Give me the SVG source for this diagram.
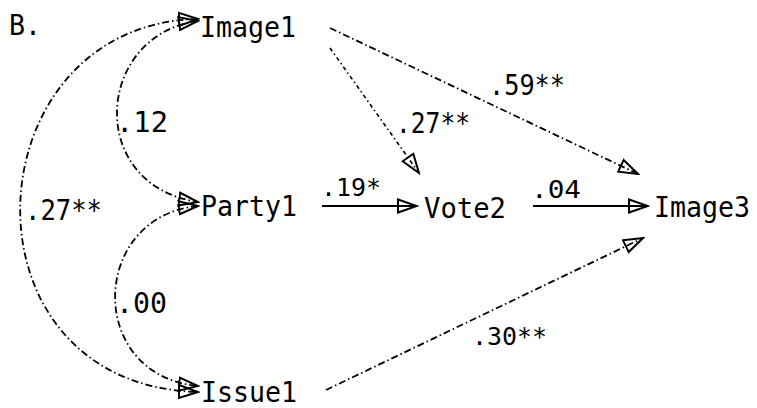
<svg xmlns="http://www.w3.org/2000/svg" width="757" height="408" viewBox="0 0 757 408">
<style>
text{font-family:"DejaVu Sans Mono","Liberation Mono",monospace;fill:#000}
.n{font-size:28px}
.l{font-size:29px}
.s{font-size:24px}
.c{fill:none;stroke:#000;stroke-width:1.8;stroke-dasharray:7 3 1.5 3}
.d{fill:none;stroke:#000;stroke-width:1.6;stroke-dasharray:4 3 1.5 3}
.sol{fill:none;stroke:#000;stroke-width:2}
</style>
<defs>
<marker id="ah" markerWidth="22" markerHeight="16" refX="20" refY="8" orient="auto-start-reverse" markerUnits="userSpaceOnUse">
<path d="M1,1.5 L20,8 L1,14.5 z" fill="none" stroke="#000" stroke-width="2"/>
</marker>
</defs>
<rect width="757" height="408" fill="#fff"/>
<text x="9" y="35" class="n" textLength="32" lengthAdjust="spacingAndGlyphs">B.</text>
<g id="connectors">
<g id="e-image1-party1"><path class="c" d="M198,21 C95,35 85,185 198,202" marker-start="url(#ah)" marker-end="url(#ah)"/><text x="116" y="132" class="l" textLength="52" lengthAdjust="spacingAndGlyphs">.12</text></g>
<g id="e-party1-issue1"><path class="c" d="M198,206 C90,216 85,375 198,386" marker-start="url(#ah)" marker-end="url(#ah)"/><text x="116" y="313" class="l" textLength="51" lengthAdjust="spacingAndGlyphs">.00</text></g>
<g id="e-image1-issue1"><path class="c" d="M198,19 C-30,24 -48,385 198,392" marker-start="url(#ah)" marker-end="url(#ah)"/><text x="25" y="220" class="l" textLength="77" lengthAdjust="spacingAndGlyphs">.27**</text></g>
<g id="e-image1-image3"><path class="c" d="M330,28 L638,174" marker-end="url(#ah)"/><text x="489" y="95" class="l" textLength="76" lengthAdjust="spacingAndGlyphs">.59**</text></g>
<g id="e-image1-vote2"><path class="d" d="M330,48 L419,173" marker-end="url(#ah)"/><text x="396" y="133" class="l" textLength="74" lengthAdjust="spacingAndGlyphs">.27**</text></g>
<g id="e-party1-vote2"><path class="sol" d="M322,206 L417,206" marker-end="url(#ah)"/><text x="321" y="196" class="s" textLength="60" lengthAdjust="spacingAndGlyphs">.19*</text></g>
<g id="e-vote2-image3"><path class="sol" d="M533,206 L648,206" marker-end="url(#ah)"/><text x="531" y="198" class="s" textLength="50" lengthAdjust="spacingAndGlyphs">.04</text></g>
<g id="e-issue1-image3"><path class="c" d="M326,390 L643,238" marker-end="url(#ah)"/><text x="472" y="345" class="s" textLength="75" lengthAdjust="spacingAndGlyphs">.30**</text></g>
</g>
<g id="image1"><text x="200" y="37" class="n" textLength="96" lengthAdjust="spacingAndGlyphs">Image1</text></g>
<g id="party1"><text x="201" y="216" class="n" textLength="96" lengthAdjust="spacingAndGlyphs">Party1</text></g>
<g id="issue1"><text x="201" y="402" class="n" textLength="96" lengthAdjust="spacingAndGlyphs">Issue1</text></g>
<g id="vote2"><text x="424" y="218" class="n" textLength="82" lengthAdjust="spacingAndGlyphs">Vote2</text></g>
<g id="image3"><text x="654" y="217" class="n" textLength="96" lengthAdjust="spacingAndGlyphs">Image3</text></g>
</svg>
